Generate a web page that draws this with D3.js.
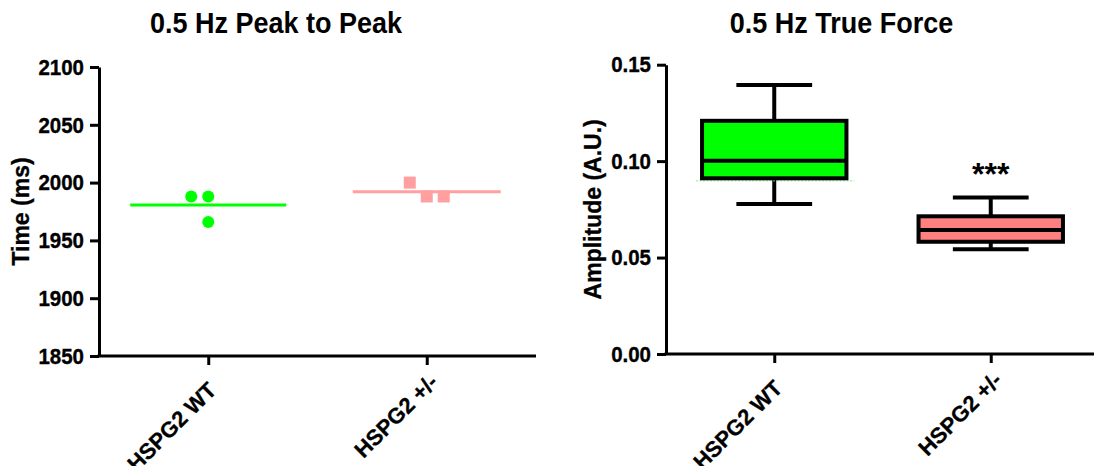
<!DOCTYPE html>
<html>
<head>
<meta charset="utf-8">
<script src="https://cdn.jsdelivr.net/npm/d3@7"></script>
<style>
  html, body { margin: 0; padding: 0; background: #fff; }
  svg { display: block; }
  text { font-family: Arial, "Liberation Sans", sans-serif; font-weight: bold; fill: #000; }
</style>
</head>
<body>
<svg id="chart" width="1094" height="466"></svg>
<script>
// Groups shared by both panels
const groups = ["HSPG2 WT", "HSPG2 +/-"];
const groupFill = ["#00ff00", "#ff8080"];
const pointColor = ["#00ff00", "#ff9f9f"];

// Panel 1: peak-to-peak time (ms), individual recordings
const peakWT = [1988, 1988, 1966];
const peakHet = [1988, 2000, 1988];
const peakTicks = [1850, 1900, 1950, 2000, 2050, 2100];

// Panel 2: true force amplitude, box summaries (min, q1, median, q3, max)
const forceMin = [0.0778, 0.0543];
const forceQ1 = [0.0911, 0.0582];
const forceMedian = [0.1002, 0.0643];
const forceQ3 = [0.1209, 0.0714];
const forceMax = [0.1395, 0.0812];
const forceTicks = [0.00, 0.05, 0.10, 0.15];
const significance = ["", "***"];

const svg = d3.select("#chart");

function styleAxis(g) {
  g.selectAll("path.domain").attr("stroke", "#000").attr("stroke-width", 3);
  g.selectAll(".tick line").attr("stroke", "#000").attr("stroke-width", 3);
  g.selectAll(".tick text").style("font-size", "20.5px").style("font-weight", "bold")
    .style("font-family", "Arial, 'Liberation Sans', sans-serif").attr("fill", "#000")
    .attr("stroke", "#000").attr("stroke-width", 0.35)
    .attr("transform", "scale(1,1.1)");
}

function drawFrame(p) {
  const g = svg.append("g");
  // title
  g.append("text").attr("text-anchor", "middle")
    .attr("transform", `translate(${p.titleX},33) scale(1,1.06)`)
    .style("font-size", "27px").text(p.title);
  // y axis
  const yAxis = d3.axisLeft(p.y).tickValues(p.ticks).tickFormat(p.fmt)
    .tickSize(9).tickPadding(6).tickSizeOuter(0);
  g.append("g").attr("transform", `translate(${p.x0},0)`).call(yAxis).call(styleAxis);
  // x axis
  const xAxis = d3.axisBottom(p.x).tickSize(9).tickSizeOuter(0).tickFormat("");
  const xg = g.append("g").attr("transform", `translate(0,${p.y.range()[0]})`).call(xAxis).call(styleAxis);
  xg.select("path.domain").attr("d", `M${p.x0 - 1.5},0H${p.xEnd}`);
  // rotated category labels; the shorter second label sits a little further up its diagonal
  g.selectAll("text.cat").data(groups).join("text").attr("class", "cat")
    .attr("text-anchor", "end")
    .attr("transform", (d, i) => `translate(${p.x(d) + 4 + i * 3},${p.y.range()[0] + 30 - i * 8}) rotate(-45)`)
    .attr("dy", "0.35em")
    .attr("stroke", "#000").attr("stroke-width", 0.3)
    .style("font-size", "22px").text(d => d);
  // y title
  g.append("text").attr("text-anchor", "middle")
    .attr("transform", `translate(${p.yTitleX},${(p.y.range()[0] + p.y.range()[1]) / 2}) rotate(-90)`)
    .attr("stroke", "#000").attr("stroke-width", 0.3)
    .style("font-size", "23px").text(p.yTitle);
  return g;
}

// ---------- Panel 1: scatter with mean line ----------
const y1 = d3.scaleLinear().domain([1850, 2100]).range([356, 67]);
const x1 = d3.scalePoint().domain(groups).range([99, 536]).padding(0.5);
const g1 = drawFrame({
  title: "0.5 Hz Peak to Peak", titleX: 276, y: y1, x: x1, x0: 99, xEnd: 536,
  ticks: peakTicks, fmt: d3.format("d"), yTitle: "Time (ms)", yTitleX: 29
});

// spread overlapping points sideways around the group centre
function dodge(values, y, gap, minDist) {
  const placed = [];
  const slots = [0, -1, 1, -2, 2];
  return values.map(v => {
    const py = y(v);
    let off = 0;
    for (const s of slots) {
      const ox = s * gap;
      if (!placed.some(q => Math.abs(q.ox - ox) < minDist && Math.abs(q.py - py) < minDist)) { off = ox; break; }
    }
    placed.push({ ox: off, py });
    return { v, ox: off };
  });
}

const peakSets = [peakWT, peakHet];
const meanHalf = [78, 74];
peakSets.forEach((vals, i) => {
  const cx = x1(groups[i]);
  const mean = d3.mean(vals);
  g1.append("line").attr("x1", cx - meanHalf[i]).attr("x2", cx + meanHalf[i])
    .attr("y1", y1(mean)).attr("y2", y1(mean))
    .attr("stroke", pointColor[i]).attr("stroke-width", 3);
  const pts = dodge(vals, y1, 17, 15);
  if (i === 0) {
    g1.selectAll("circle.wt").data(pts).join("circle").attr("class", "wt")
      .attr("cx", d => cx + d.ox).attr("cy", d => y1(d.v)).attr("r", 6)
      .attr("fill", pointColor[i]);
  } else {
    g1.selectAll("rect.het").data(pts).join("rect").attr("class", "het")
      .attr("x", d => cx + d.ox - 6).attr("y", d => y1(d.v) - 6)
      .attr("width", 12).attr("height", 12).attr("fill", pointColor[i]);
  }
});

// ---------- Panel 2: box and whisker ----------
const y2 = d3.scaleLinear().domain([0, 0.15]).range([354, 64.7]);
const x2 = d3.scalePoint().domain(groups).range([666, 1099]).padding(0.5);
const g2 = drawFrame({
  title: "0.5 Hz True Force", titleX: 841.5, y: y2, x: x2, x0: 666, xEnd: 1100,
  ticks: forceTicks, fmt: d3.format(".2f"), yTitle: "Amplitude (A.U.)", yTitleX: 601
});

const step = x2.step();
const boxW = step * 0.667;
const capW = step * 0.35;

groups.forEach((grp, i) => {
  const cx = x2(grp);
  const b = g2.append("g");
  // whiskers
  b.append("line").attr("x1", cx).attr("x2", cx).attr("y1", y2(forceMax[i])).attr("y2", y2(forceQ3[i]))
    .attr("stroke", "#000").attr("stroke-width", 4);
  b.append("line").attr("x1", cx).attr("x2", cx).attr("y1", y2(forceQ1[i])).attr("y2", y2(forceMin[i]))
    .attr("stroke", "#000").attr("stroke-width", 4);
  [forceMax[i], forceMin[i]].forEach(v => {
    b.append("line").attr("x1", cx - capW / 2).attr("x2", cx + capW / 2)
      .attr("y1", y2(v)).attr("y2", y2(v)).attr("stroke", "#000").attr("stroke-width", 4);
  });
  // box
  if (i === 0) {
    b.append("line").attr("x1", cx - boxW / 2 - 6).attr("x2", cx + boxW / 2 + 8)
      .attr("y1", y2(forceQ1[i]) + 2.5).attr("y2", y2(forceQ1[i]) + 2.5)
      .attr("stroke", "#7cf07c").attr("stroke-width", 1).attr("stroke-dasharray", "2,1.5");
  }
  b.append("rect").attr("x", cx - boxW / 2).attr("y", y2(forceQ3[i]))
    .attr("width", boxW).attr("height", y2(forceQ1[i]) - y2(forceQ3[i]))
    .attr("fill", groupFill[i]).attr("stroke", "#000").attr("stroke-width", 4);
  b.append("line").attr("x1", cx - boxW / 2).attr("x2", cx + boxW / 2)
    .attr("y1", y2(forceMedian[i])).attr("y2", y2(forceMedian[i]))
    .attr("stroke", "#000").attr("stroke-width", 4);
  if (significance[i]) {
    b.append("text").attr("x", cx).attr("y", y2(forceMax[i]) - 12)
      .attr("text-anchor", "middle").style("font-size", "32px").text(significance[i]);
  }
});
</script>
</body>
</html>
